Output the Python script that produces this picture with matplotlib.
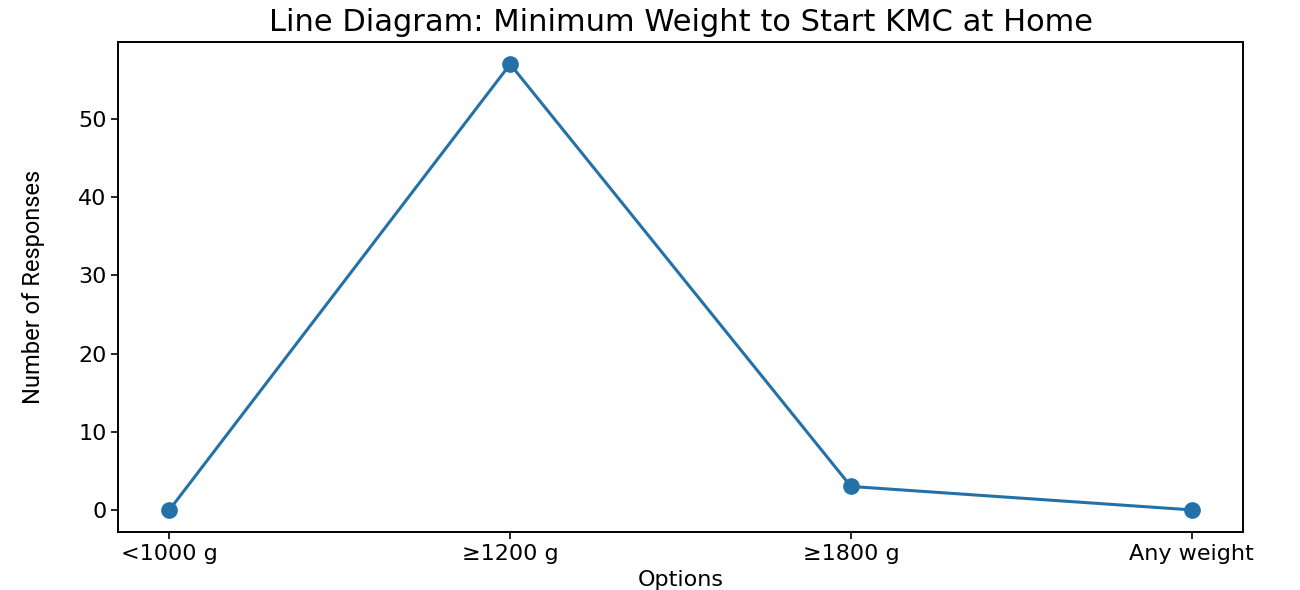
import matplotlib
matplotlib.use('Agg')
import matplotlib.pyplot as plt

# Responses per minimum-weight option
options = ['<1000 g', '≥1200 g', '≥1800 g', 'Any weight']
responses = [0, 57, 3, 0]

fig, ax = plt.subplots(figsize=(13, 5.9), dpi=100)
fig.subplots_adjust(left=0.091, right=0.956, top=0.929, bottom=0.098)

ax.plot(options, responses, marker='o', color='#2471a8', linewidth=2.2, markersize=11)

ax.set_title('Line Diagram: Minimum Weight to Start KMC at Home', fontsize=22, pad=8)
ax.set_xlabel('Options', fontsize=16, labelpad=4)
ax.set_ylabel('Number of Responses', fontsize=17,
              family=['Roboto', 'DejaVu Sans'], labelpad=24)
ax.tick_params(labelsize=16, length=5, width=1.2)
for s in ax.spines.values():
    s.set_linewidth(1.4)

plt.savefig('out.png', dpi=100)
